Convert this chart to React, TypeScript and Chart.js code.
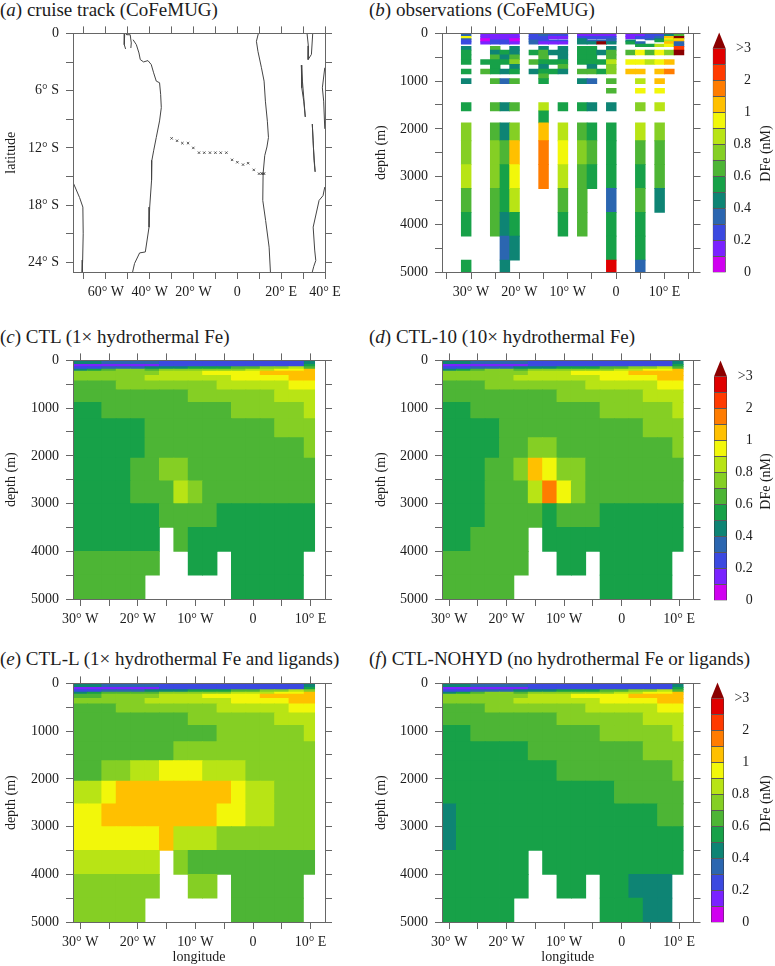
import React, { useEffect, useRef } from "react";
import { Chart, registerables } from "chart.js";

Chart.register(...registerables);

const _ = null;
const SERIF = "'Liberation Serif', serif";
const AXIS_COLOR = "#666";
const TEXT_COLOR = "#1c1c1c";

// ---- colour key ----
const binEdges = [0, 0.1, 0.2, 0.3, 0.4, 0.5, 0.6, 0.7, 0.8, 0.9, 1, 1.5, 2, 2.5, 3];
const binColors = ["#d000f0", "#7a22ff", "#3b49e0", "#2b66b0", "#0e8474", "#17a148", "#4db535", "#85cf24", "#b8e415", "#f2f70a", "#ffc000", "#ff7c00", "#ff3a00", "#e00000"];
const overColor = "#8b0000";
const keyTicks = [0, 2, 4, 6, 8, 10, 12, 14];
const keyLabels = ["0", "0.2", "0.4", "0.6", "0.8", "1", "2", ">3"];

// ---- panel (a) ----
const coastSouthAmericaEast = [[-51.4, 0], [-51.6, -1.18], [-51.0, -1.63]];
const coastAmazon = [[-50.5, 0], [-50.5, -0.14], [-48.9, -0.14], [-48.4, -1.0], [-48.6, -1.53]];
const coastBrazil = [[-47.6, -0.66], [-46.1, -1.18], [-44.9, -2.05], [-44.3, -2.74], [-42.8, -2.99], [-40.8, -2.85], [-39.3, -3.26], [-38.2, -4.13], [-37.0, -5.0], [-35.5, -5.17], [-35.0, -6.39], [-34.7, -7.78], [-35.5, -9.17], [-37.0, -10.9], [-38.2, -12.3], [-39.0, -13.3], [-39.15, -15.4], [-40.0, -18.2], [-40.3, -20.3], [-42.0, -22.9], [-44.6, -23.0], [-46.9, -24.1], [-47.8, -25]];
const coastPeru = [[-75, -15.6], [-72, -17.2], [-70.5, -18.2], [-70.35, -21], [-70.6, -23.75], [-70.8, -25]];
const coastAfricaWest = [[9.6, 0], [8.7, -0.83], [9.4, -1.88], [11, -3.6], [12.2, -5], [12.8, -7.1], [13.7, -9.2], [14.2, -10.9], [13.5, -11.9], [12.5, -12.8], [11.75, -14.7], [11.6, -17.5], [12.9, -19.6], [14.5, -22.4], [15.1, -25]];
const lakeVictoria = [[31.8, 0], [32.4, -1.3], [32.3, -2.74], [33.8, -2.2], [34.4, 0]];
const lakeTanganyika = [[29.2, -3.33], [29.4, -5.7], [30.3, -7.1], [31.0, -8.75], [30.3, -6.7], [29.7, -5], [29.2, -3.33]];
const lakeMalawi = [[34.2, -9.5], [34.7, -11.9], [35.5, -14.5], [35, -13.3], [34.6, -11.25], [34.2, -9.5]];
const coastAfricaEastNorth = [[39.9, -3.6], [38.8, -5.7], [39.4, -7.1], [39.9, -10]];
const coastAfricaEastSouth = [[39.9, -16.1], [39.1, -17], [37.3, -17.5], [34.6, -20.3], [35.3, -22.7], [35.8, -23.8], [34.9, -24.4], [34.2, -25]];
const coastlines = [coastSouthAmericaEast, coastAmazon, coastBrazil, coastPeru, coastAfricaWest, lakeVictoria, lakeTanganyika, lakeMalawi, coastAfricaEastNorth, coastAfricaEastSouth];
const trackLon = [-30, -27.5, -25.1, -22.5, -20.1, -17.5, -15.1, -12.5, -10, -7.6, -5, -2.4, 0, 2.6, 4.9, 7.5, 9.9, 11.1, 11.7, 12.2];
const trackLat = [-11, -11.25, -11.5, -11.5, -12, -12.5, -12.5, -12.5, -12.5, -12.5, -12.5, -13.25, -13.5, -13.75, -13.6, -14.3, -14.7, -14.7, -14.7, -14.7];
const mapLonTicks = [-70, -60, -50, -40, -30, -20, -10, 0, 10, 20, 30, 40];
const mapLonLabels = { "-60": "60° W", "-40": "40° W", "-20": "20° W", "0": "0", "20": "20° E", "40": "40° E" };
const mapLatTicks = [0, -3, -6, -9, -12, -15, -18, -21, -24];
const mapLatLabels = { "0": "0", "-6": "6° S", "-12": "12° S", "-18": "18° S", "-24": "24° S" };

// ---- shared section axes ----
const depthTicks = [0, 500, 1000, 1500, 2000, 2500, 3000, 3500, 4000, 4500, 5000];
const depthLabels = { "0": "0", "1000": "1000", "2000": "2000", "3000": "3000", "4000": "4000", "5000": "5000" };
const lonTicksModel = [-30, -25, -20, -15, -10, -5, 0, 5, 10];
const lonTicksObs = [-35, -30, -25, -20, -15, -10, -5, 0, 5, 10, 15];
const lonLabels = { "-30": "30° W", "-20": "20° W", "-10": "10° W", "0": "0", "10": "10° E" };

// ---- panel (b): CoFeMUG observations, nM ----
const obsLon = [-31, -27, -25, -23, -21, -17, -15, -13, -11, -7, -5, -3, -1, 3, 5, 7, 9, 11, 13];
const obsDepthEdges = [0, 62.5, 112.5, 137.5, 175, 225, 275, 350, 450, 550, 650, 750, 850, 950, 1050, 1150, 1250, 1450, 1625, 1875, 2250, 2750, 3250, 3750, 4250, 4750, 5000];
const obsColumns = [
  [.35, .95, .35, .25, .25, _, .45, .55, .55, .55, _, .55, _, .45, _, _, _, .55, _, .75, .75, .85, .65, .55, _, .55],
  [.15, .15, .05, .05, .15, _, _, _, _, .55, _, .65, _, _, _, _, _, _, _, _, _, _, _, _, _, _],
  [.15, .15, .15, .25, .25, _, .65, .45, .65, .55, .55, .55, _, .65, _, _, _, .65, _, .65, .75, .75, .65, .65, _, _],
  [.15, .15, .15, .25, .25, _, _, .55, .45, .55, _, .45, _, .35, _, _, _, .45, _, .45, .65, .55, .55, .45, .35, .45],
  [.15, .15, .05, .05, .15, _, .45, .45, .65, .75, .45, .55, _, .65, _, _, _, .65, _, .75, 1.2, .95, .85, .55, .45, _],
  [.25, .25, .25, .35, .35, _, _, .55, _, .65, _, .45, _, _, _, _, _, _, _, _, _, _, _, _, _, _],
  [.35, .25, .25, .25, .15, _, .45, .65, .65, .55, .45, .55, .65, .55, _, _, _, .85, .55, 1.2, 1.7, 1.7, _, _, _, _],
  [.25, .15, _, .25, .15, _, _, .45, _, .55, _, .55, _, _, _, _, _, _, _, _, _, _, _, _, _, _],
  [.25, .15, _, .25, .15, _, .45, .45, .45, .55, .65, .45, _, _, _, _, _, .55, _, .85, .95, .85, .65, .55, _, _],
  [.15, .25, .45, .45, .45, _, .55, .55, .55, .55, _, .65, _, .45, _, _, _, .55, _, .65, .75, .65, .65, .65, _, _],
  [.15, .25, _, .35, .45, _, .55, .55, .55, .55, .45, .65, _, .35, _, _, _, .45, _, .55, .65, .55, _, _, _, _],
  [.15, .25, _, .35, 3.5, _, _, .45, _, .55, _, .55, _, _, _, _, _, _, _, _, _, _, _, _, _, _],
  [.15, .25, .35, .35, .45, _, .45, .65, .65, .85, .75, .75, _, .65, _, .65, _, .45, _, .55, .55, .55, .35, .55, .55, 2.7],
  [.15, .15, _, .45, .55, _, _, .65, _, .95, _, 1.2, _, _, _, _, _, _, _, _, _, _, _, _, _, _],
  [.15, .25, _, _, .35, .55, _, .95, _, .95, _, 1.2, _, .85, _, .95, _, .75, _, .85, .65, .55, .65, .55, .55, .35],
  [.25, .25, .35, _, _, .55, _, .65, _, .85, _, _, _, _, _, _, _, _, _, _, _, _, _, _, _, _],
  [.25, .35, .45, .55, _, .85, _, .95, _, .95, _, 1.2, _, 1.2, _, .95, _, .85, _, .75, .65, .65, .45, _, _, _],
  [.45, 1.2, .95, .85, 1.2, .95, _, .75, _, 1.2, _, 1.7, _, _, _, _, _, _, _, _, _, _, _, _, _, _],
  [.65, 3.5, .95, 1.2, .35, .35, 2.2, 3.5, _, _, _, _, _, _, _, _, _, _, _, _, _, _, _, _, _, _],
];

// ---- panels (c)-(f): model sections, nM ----
const modelLonEdges = [-31.25, -28.75, -26.25, -23.75, -21.25, -18.75, -16.25, -13.75, -11.25, -8.75, -6.25, -3.75, -1.25, 1.25, 3.75, 6.25, 8.75, 10.7];
const modelDepthEdges = [0, 83, 130, 181, 223, 313, 430, 620, 880, 1220, 1620, 2050, 2525, 3000, 3500, 4000, 4500, 5000];

const ctlRows = [
  [.45, .45, .35, .35, .35, .35, .25, .25, .25, .25, .25, .25, .25, .25, .25, .25, .45],
  [.15, .15, .15, .15, .15, .15, .25, .25, .25, .25, .25, .25, .25, .25, .25, .25, .55],
  [.25, .25, .35, .35, .35, .45, .45, .45, .55, .55, .55, .65, .65, .75, .75, .85, .65],
  [.45, .55, .65, .75, .75, .65, .75, .75, .75, .75, .75, .75, .85, .85, .95, .95, 1.2],
  [.75, .75, .75, .75, .75, .75, .85, .85, .85, .95, .95, .95, .95, 1.2, 1.2, 1.2, 1.2],
  [.75, .75, .75, .75, .75, .85, .85, .85, .85, .85, .85, .95, .95, .95, .95, 1.2, 1.2],
  [.65, .65, .65, .75, .75, .75, .75, .75, .75, .75, .85, .85, .85, .85, .85, .95, .95],
  [.65, .65, .65, .65, .65, .65, .65, .65, .75, .75, .75, .75, .75, .75, .85, .85, .85],
  [.55, .55, .65, .65, .65, .65, .65, .65, .65, .65, .65, .75, .75, .75, .75, .75, .85],
  [.55, .55, .55, .55, .55, .65, .65, .65, .65, .65, .65, .65, .65, .65, .75, .75, .75],
  [.55, .55, .55, .55, .55, .65, .65, .65, .65, .65, .65, .65, .65, .65, .65, .65, .75],
  [.55, .55, .55, .55, .65, .65, .75, .75, .65, .65, .65, .65, .65, .65, .65, .65, .65],
  [.55, .55, .55, .55, .65, .65, .65, .85, .75, .65, .65, .65, .65, .65, .65, .65, .65],
  [.55, .55, .55, .55, .55, .55, .65, .65, .65, .65, .55, .55, .55, .55, .55, .55, .55],
  [.55, .55, .55, .55, .55, .55, _, .65, .55, .55, .55, .55, .55, .55, .55, .55, .55],
  [.65, .65, .65, .65, .65, .65, _, _, .55, .55, _, .55, .55, .55, .55, .55, _],
  [.65, .65, .65, .65, .65, _, _, _, _, _, _, .55, .55, .55, .55, .55, _],
];

const ctl10Rows = [
  ...ctlRows.slice(0, 9),
  [.55, .55, .55, .55, .65, .65, .65, .65, .65, .65, .65, .65, .65, .65, .75, .75, .75],
  [.55, .55, .55, .55, .65, .65, .75, .75, .65, .65, .65, .65, .65, .65, .65, .65, .75],
  [.55, .55, .55, .65, .65, .75, 1.2, .95, .75, .75, .65, .65, .65, .65, .65, .65, .65],
  [.55, .55, .55, .65, .65, .65, .85, 1.7, .95, .75, .65, .65, .65, .65, .65, .65, .65],
  [.55, .55, .55, .65, .65, .65, .65, .55, .65, .65, .65, .55, .55, .55, .55, .55, .55],
  [.55, .55, .65, .65, .65, .65, _, .55, .55, .55, .55, .55, .55, .55, .55, .55, .55],
  [.65, .65, .65, .65, .65, .65, _, _, .55, .55, _, .55, .55, .55, .55, .55, _],
  [.65, .65, .65, .65, .65, _, _, _, _, _, _, .55, .55, .55, .55, .55, _],
];

const ctlLRows = [
  [.45, .45, .35, .35, .35, .35, .25, .25, .25, .25, .25, .25, .25, .25, .25, .25, .45],
  [.15, .15, .15, .15, .15, .15, .25, .25, .25, .25, .25, .25, .25, .25, .25, .25, .55],
  [.25, .25, .35, .35, .35, .45, .45, .45, .55, .55, .55, .65, .65, .75, .75, .85, .75],
  [.45, .55, .65, .65, .65, .65, .75, .75, .75, .75, .75, .85, .85, .85, .95, .95, 1.2],
  [.65, .65, .75, .75, .75, .75, .85, .85, .85, .95, .95, .95, .95, 1.2, 1.2, 1.2, 1.2],
  [.75, .75, .75, .75, .75, .85, .85, .85, .85, .85, .85, .95, .95, .95, .95, 1.2, 1.2],
  [.65, .65, .65, .75, .75, .75, .75, .75, .75, .75, .85, .85, .85, .85, .85, .95, .95],
  [.65, .65, .65, .65, .65, .65, .65, .65, .75, .75, .75, .75, .75, .75, .85, .85, .85],
  [.65, .65, .65, .65, .65, .65, .65, .65, .65, .65, .75, .75, .75, .75, .75, .75, .85],
  [.65, .65, .65, .65, .65, .65, .65, .75, .75, .75, .75, .75, .75, .75, .75, .75, .75],
  [.65, .65, .75, .75, .85, .85, .95, .95, .95, .85, .85, .85, .75, .75, .75, .75, .75],
  [.85, .85, .95, 1.2, 1.2, 1.2, 1.2, 1.2, 1.2, 1.2, 1.2, .95, .85, .85, .75, .75, .75],
  [.95, .95, 1.2, 1.2, 1.2, 1.2, 1.2, 1.2, 1.2, 1.2, .95, .95, .85, .85, .75, .75, .75],
  [.95, .95, .95, .95, .95, .95, 1.2, .85, .85, .85, .75, .75, .75, .75, .75, .75, .75],
  [.85, .85, .85, .85, .85, .85, _, .75, .65, .65, .65, .65, .65, .65, .65, .65, .65],
  [.75, .75, .75, .75, .75, .75, _, _, .75, .75, _, .65, .65, .65, .65, .65, _],
  [.75, .75, .75, .75, .75, _, _, _, _, _, _, .65, .65, .65, .65, .65, _],
];

const ctlNoHydRows = [
  ...ctlRows.slice(0, 9),
  [.55, .55, .55, .55, .55, .55, .65, .65, .65, .65, .65, .65, .65, .65, .75, .75, .75],
  [.55, .55, .55, .55, .55, .55, .55, .55, .65, .65, .65, .65, .65, .65, .65, .65, .75],
  [.55, .55, .55, .55, .55, .55, .55, .55, .55, .55, .55, .55, .65, .65, .65, .65, .65],
  [.45, .55, .55, .55, .55, .55, .55, .55, .55, .55, .55, .55, .55, .55, .55, .65, .65],
  [.45, .55, .55, .55, .55, .55, .55, .55, .55, .55, .55, .55, .55, .55, .55, .55, .55],
  [.55, .55, .55, .55, .55, .55, _, .55, .55, .55, .55, .55, .55, .55, .55, .55, .55],
  [.55, .55, .55, .55, .55, .55, _, _, .55, .55, _, .55, .55, .45, .45, .45, _],
  [.55, .55, .55, .55, .55, _, _, _, _, _, _, .55, .55, .55, .45, .45, _],
];

// ---- helpers ----
function colorOf(v: number) {
  for (let i = 0; i < binColors.length; i++) if (v < binEdges[i + 1]) return binColors[i];
  return overColor;
}

function axis(o: any) {
  const horizontal = o.position === "top" || o.position === "bottom";
  return {
    type: "linear",
    position: o.position,
    min: o.min,
    max: o.max,
    offset: false,
    reverse: !!o.reverse,
    afterBuildTicks: (s: any) => { s.ticks = o.ticks.map((value: number) => ({ value })); },
    afterFit: (s: any) => { if (horizontal) s.height = o.size; else s.width = o.size; },
    grid: { display: true, offset: false, drawOnChartArea: false, drawTicks: true, tickLength: 7, tickWidth: 1, color: AXIS_COLOR },
    border: { display: true, color: AXIS_COLOR, width: 1, z: 1 },
    ticks: {
      display: !!o.labels,
      autoSkip: false,
      maxRotation: 0,
      minRotation: 0,
      padding: horizontal ? 5 : 7,
      color: TEXT_COLOR,
      font: { family: SERIF, size: 14 },
      callback: (v: number) => (o.labels ? o.labels[String(v)] ?? "" : ""),
    },
    title: o.title
      ? { display: true, text: o.title, color: TEXT_COLOR, font: { family: SERIF, size: 14 }, padding: { top: o.titlePad ?? 0, bottom: 0 } }
      : { display: false },
  };
}

function frameScales(box: any, xo: any, yo: any) {
  const left = box.px - box.l;
  const right = box.l + box.w - box.pr;
  const top = box.pt - box.t;
  const bottom = box.t + box.h - box.pb;
  return {
    x: axis({ ...xo, position: "bottom", size: bottom }),
    y: axis({ ...yo, position: "left", size: left }),
    x2: axis({ min: xo.min, max: xo.max, ticks: xo.ticks, position: "top", size: top }),
    y2: axis({ min: yo.min, max: yo.max, ticks: yo.ticks, reverse: yo.reverse, position: "right", size: right }),
  };
}

function cellDatasets(cells: any[], barPercentage: number) {
  return {
    type: "bar",
    data: cells,
    grouped: false,
    barPercentage,
    categoryPercentage: 1,
    borderWidth: 0,
    inflateAmount: 0.4,
    backgroundColor: (c: any) => (c.raw ? colorOf(c.raw.v) : "transparent"),
  };
}

function baseOptions(scales: any) {
  return {
    responsive: false,
    animation: false,
    maintainAspectRatio: false,
    layout: { padding: 0 },
    plugins: { legend: { display: false }, tooltip: { enabled: false }, title: { display: false } },
    scales,
  };
}

function sectionConfig(box: any, rows: any[], xLabelTitle?: string) {
  const centers = modelLonEdges.slice(0, -1).map((e, i) => (e + modelLonEdges[i + 1]) / 2);
  const main: any[] = [];
  const last: any[] = [];
  rows.forEach((row: any[], r: number) =>
    row.forEach((v, c) => {
      if (v === null) return;
      const cell = { x: centers[c], y: [modelDepthEdges[r], modelDepthEdges[r + 1]], v };
      (c === row.length - 1 ? last : main).push(cell);
    })
  );
  const spacing = centers[16] - centers[15];
  return {
    type: "bar",
    data: {
      datasets: [
        cellDatasets(main, (modelLonEdges[1] - modelLonEdges[0]) / spacing),
        cellDatasets(last, (modelLonEdges[17] - modelLonEdges[16]) / spacing),
      ],
    },
    options: baseOptions(
      frameScales(
        box,
        { min: -31.25, max: 12.5, ticks: lonTicksModel, labels: lonLabels, title: xLabelTitle },
        { min: 0, max: 5000, reverse: true, ticks: depthTicks, labels: depthLabels, title: "depth (m)", titlePad: 3 }
      )
    ),
  };
}

function obsConfig(box: any) {
  const cells: any[] = [];
  obsColumns.forEach((col, c) =>
    col.forEach((v, r) => {
      if (v === null) return;
      cells.push({ x: obsLon[c], y: [obsDepthEdges[r], obsDepthEdges[r + 1]], v });
    })
  );
  return {
    type: "bar",
    data: { datasets: [cellDatasets(cells, 1)] },
    options: baseOptions(
      frameScales(
        box,
        { min: -36, max: 16, ticks: lonTicksObs, labels: lonLabels },
        { min: 0, max: 5000, reverse: true, ticks: depthTicks, labels: depthLabels, title: "depth (m)", titlePad: 3 }
      )
    ),
  };
}

function mapConfig(box: any) {
  const lines = coastlines.map((pts) => ({
    type: "scatter",
    showLine: true,
    data: pts.map(([x, y]) => ({ x, y })),
    borderColor: "#444",
    borderWidth: 1,
    pointRadius: 0,
    tension: 0,
  }));
  const track = {
    type: "scatter",
    data: trackLon.map((x, i) => ({ x, y: trackLat[i] })),
    pointStyle: "crossRot",
    pointRadius: 1.7,
    borderColor: "#333",
    backgroundColor: "#333",
    pointBorderWidth: 0.8,
    showLine: false,
  };
  return {
    type: "scatter",
    data: { datasets: [...lines, track] },
    options: baseOptions(
      frameScales(
        box,
        { min: -75, max: 40, ticks: mapLonTicks, labels: mapLonLabels },
        { min: -25, max: 0, ticks: mapLatTicks, labels: mapLatLabels, title: "latitude", titlePad: 3 }
      )
    ),
  };
}

const keyArrowPlugin = {
  id: "keyArrow",
  afterDatasetsDraw(chart: any) {
    const { ctx, chartArea, scales } = chart;
    const yBase = scales.y.getPixelForValue(14);
    const yTip = scales.y.getPixelForValue(15);
    ctx.save();
    ctx.fillStyle = overColor;
    ctx.beginPath();
    ctx.moveTo(chartArea.left, yBase);
    ctx.lineTo(chartArea.right, yBase);
    ctx.lineTo((chartArea.left + chartArea.right) / 2, yTip);
    ctx.closePath();
    ctx.fill();
    ctx.fillStyle = TEXT_COLOR;
    ctx.font = `14px ${SERIF}`;
    ctx.textAlign = "center";
    ctx.textBaseline = "middle";
    ctx.translate(chart.width - 8.5, (chartArea.top + chartArea.bottom) / 2 + 1);
    ctx.rotate(-Math.PI / 2);
    ctx.fillText("DFe (nM)", 0, 0);
    ctx.restore();
  },
};

function keyConfig(box: any) {
  const cells = binColors.map((_c, i) => ({ x: "DFe", y: [i, i + 1], v: binEdges[i] + 0.001 }));
  return {
    type: "bar",
    data: {
      labels: ["DFe"],
      datasets: [
        {
          data: cells,
          grouped: false,
          barPercentage: 1,
          categoryPercentage: 1,
          borderWidth: 0.8,
          borderSkipped: false,
          borderColor: "#333",
          backgroundColor: (c: any) => (c.raw ? colorOf(c.raw.v) : "transparent"),
        },
      ],
    },
    options: {
      ...baseOptions({
        x: { type: "category", display: false },
        y: {
          type: "linear",
          position: "right",
          min: 0,
          max: 15,
          afterBuildTicks: (s: any) => { s.ticks = keyTicks.map((value) => ({ value })); },
          afterFit: (s: any) => {
            s.width = box.labelRight - box.pr;
            s.paddingTop = 0;
            s.paddingBottom = 0;
          },
          grid: { display: false, drawTicks: false },
          border: { display: false },
          ticks: {
            autoSkip: false,
            padding: 2,
            crossAlign: "far",
            color: TEXT_COLOR,
            font: { family: SERIF, size: 14 },
            callback: (v: number) => keyLabels[keyTicks.indexOf(v)] ?? "",
          },
        },
      }),
      layout: {
        padding: {
          left: box.px - box.l,
          top: box.pt - box.t,
          bottom: box.t + box.h - box.pb,
          right: box.l + box.w - box.labelRight,
        },
      },
    },
    plugins: [keyArrowPlugin],
  };
}

function ChartBox({ box, make }: any) {
  const ref = useRef<HTMLCanvasElement | null>(null);
  useEffect(() => {
    const chart = new Chart(ref.current as any, make(box));
    return () => chart.destroy();
  }, []);
  return (
    <canvas
      ref={ref}
      width={box.w}
      height={box.h}
      style={{ position: "absolute", left: box.l, top: box.t, width: box.w, height: box.h, display: "block" }}
    />
  );
}

function PanelTitle({ x, y, letter, text }: any) {
  return (
    <div
      style={{
        position: "absolute",
        left: x,
        top: y,
        fontFamily: SERIF,
        fontSize: 19,
        lineHeight: "20px",
        color: TEXT_COLOR,
        whiteSpace: "nowrap",
      }}
    >
      (<i>{letter}</i>) {text}
    </div>
  );
}

const LEFT = { l: 0, w: 360, px: 73, pr: 325 };
const RIGHT = { l: 370, w: 332, px: 442, pr: 693.5 };
const ROW1 = { t: 18, h: 300, pt: 32, pb: 272 };
const ROW2 = { t: 345, h: 290, pt: 359, pb: 599 };
const ROW3 = { t: 668, h: 298, pt: 682, pb: 922 };

export default function App() {
  return (
    <div style={{ position: "absolute", left: 0, top: 0, width: 775, height: 966, overflow: "hidden", background: "#fff" }}>
      <PanelTitle x={0} y={0} letter="a" text="cruise track (CoFeMUG)" />
      <PanelTitle x={369} y={0} letter="b" text="observations (CoFeMUG)" />
      <PanelTitle x={0} y={327} letter="c" text="CTL (1× hydrothermal Fe)" />
      <PanelTitle x={369} y={327} letter="d" text="CTL-10 (10× hydrothermal Fe)" />
      <PanelTitle x={0} y={649} letter="e" text="CTL-L (1× hydrothermal Fe and ligands)" />
      <PanelTitle x={369} y={649} letter="f" text="CTL-NOHYD (no hydrothermal Fe or ligands)" />

      <ChartBox box={{ ...LEFT, ...ROW1 }} make={mapConfig} />
      <ChartBox box={{ ...RIGHT, ...ROW1 }} make={obsConfig} />
      <ChartBox box={{ ...LEFT, ...ROW2 }} make={(b: any) => sectionConfig(b, ctlRows)} />
      <ChartBox box={{ ...RIGHT, ...ROW2 }} make={(b: any) => sectionConfig(b, ctl10Rows)} />
      <ChartBox box={{ ...LEFT, ...ROW3 }} make={(b: any) => sectionConfig(b, ctlLRows, "longitude")} />
      <ChartBox box={{ ...RIGHT, ...ROW3 }} make={(b: any) => sectionConfig(b, ctlNoHydRows, "longitude")} />

      <ChartBox box={{ l: 702, w: 73, t: 20, h: 268, px: 712.7, pr: 725.7, pt: 32.5, pb: 272.5, labelRight: 751 }} make={keyConfig} />
      <ChartBox box={{ l: 702, w: 73, t: 348, h: 268, px: 714, pr: 727, pt: 360.5, pb: 600.5, labelRight: 752.7 }} make={keyConfig} />
      <ChartBox box={{ l: 702, w: 73, t: 670, h: 268, px: 711, pr: 724, pt: 682.5, pb: 922.5, labelRight: 749.3 }} make={keyConfig} />
    </div>
  );
}
